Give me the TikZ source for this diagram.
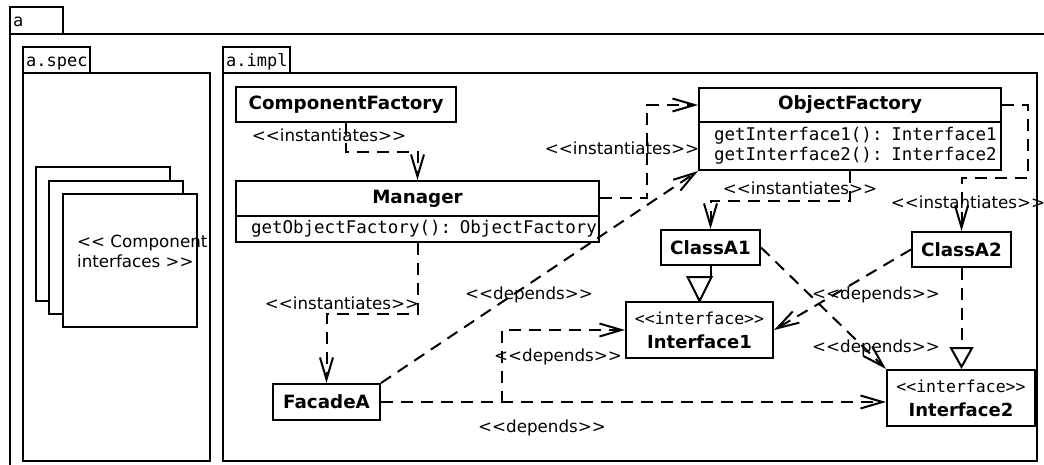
\documentclass[tikz,border=0pt]{standalone}
\usepackage{fontspec}
\setmainfont{DejaVu Sans}
\newfontfamily\monof{DejaVu Sans Mono}
\usetikzlibrary{arrows.meta,calc}

\begin{document}
\begin{tikzpicture}[x=1pt,y=-1pt,
  box/.style={draw, line width=2pt, inner sep=0pt, fill=white},
  cls/.style={box, font=\bfseries\fontsize{18.3}{22}\selectfont},
  ops/.style={box, font=\monof\fontsize{17.5}{20}\selectfont, align=left, inner xsep=15pt},
  iface/.style={box, align=center, font=\bfseries\fontsize{18}{24}\selectfont},
  lbl/.style={font=\fontsize{16.7}{20}\selectfont, inner sep=0pt},
  tabtxt/.style={font=\monof\fontsize{17}{20}\selectfont, inner sep=0pt, anchor=base west},
  frm/.style={line width=2pt},
  dep/.style={line width=2pt, dash pattern=on 12pt off 8pt,
    -{Straight Barb[length=22pt,width=13pt,line width=2pt]}},
  realdash/.style={line width=2pt, dash pattern=on 12pt off 8pt,
    -{Triangle[open,length=22pt,width=24pt,line width=2pt]}},
]
\useasboundingbox (0,0) rectangle (1044,465);

% package a
\draw[frm] (10,7) rectangle (63,34);
\node[tabtxt] (ta) at (13,27) {a};
\draw[frm] (10,475) -- (10,34) -- (1060,34);

% package a.spec
\draw[frm] (23,47) rectangle (90,73);
\node[tabtxt] (tspec) at (26,67) {a.spec};
\draw[frm] (23,73) rectangle (210,461);

% package a.impl
\draw[frm] (223,47) rectangle (290,73);
\node[tabtxt] (timpl) at (226,67) {a.impl};
\draw[frm] (223,73) rectangle (1037,461);

% stacked component interfaces
\node[box, minimum width=134pt, minimum height=134pt] (s1) at (103,234) {};
\node[box, minimum width=134pt, minimum height=133pt] (s2) at (116,247.5) {};
\node[box, minimum width=134pt, minimum height=133pt] (s3) at (130,260.5) {};
\node[lbl, align=left, anchor=north west] (stxt) at (77,235)
  {<{}< Component\\interfaces >{}>};

% classes
\node[cls, minimum width=220pt, minimum height=35pt] (CF) at (346,104.5) {ComponentFactory};
\node[cls, minimum width=363pt, minimum height=35pt] (Mgr) at (417.5,198.5) {Manager};
\node[ops, minimum width=363pt, minimum height=26pt, text width=333pt] (MgrOps) at (417.5,229)
  {\mbox{getObjectFactory(): ObjectFactory}};
\node[cls, minimum width=302pt, minimum height=34pt] (OF) at (850,105) {ObjectFactory};
\node[ops, minimum width=302pt, minimum height=48pt, text width=272pt] (OFOps) at (850,146)
  {\mbox{getInterface1(): Interface1}\\\mbox{getInterface2(): Interface2}};
\node[cls, minimum width=99pt, minimum height=35pt] (CA1) at (710.5,247.5) {ClassA1};
\node[cls, minimum width=99pt, minimum height=35pt] (CA2) at (961.5,249.5) {ClassA2};
\node[cls, minimum width=107pt, minimum height=36pt] (Fac) at (326.5,402) {FacadeA};
\node[iface, minimum width=147pt, minimum height=56pt] (I1) at (699.5,330)
  {{\monof\mdseries\fontsize{16.5}{24}\selectfont <{}<interface>{}>}\\Interface1};
\node[iface, minimum width=148pt, minimum height=56pt] (I2) at (961,398)
  {{\monof\mdseries\fontsize{16.5}{24}\selectfont <{}<interface>{}>}\\Interface2};

% instantiation dependencies
\draw[dep] (CF.south) -- ++(0,29) -| (Mgr.north);
\draw[dep] (Mgr.east) -| ($(OF.west)+(-51,0)$) -- (OF.west);
\draw[dep] (MgrOps.south) -- ++(0,71) -| (Fac.north);
\draw[dep] (OFOps.south) -- ++(0,30) -| (CA1.north);
\draw[dep] (OF.east) -- ++(26,0) -- ++(0,73) -| (CA2.north);

% usage dependencies
\draw[dep] (Fac.north east) -- (OFOps.south west);
\draw[dep] (Fac.east) -| ($(I1.west)+(-123,0)$) -- (I1.west);
\draw[dep] (Fac.east) -- (Fac.east -| I2.west);
\draw[dep] (CA2.west) -- (I1.east);
\draw[dep] (CA1.east) -- (I2.north west);

% realizations
\draw[line width=2pt] (CA1.south) -- ++(0,13);
\draw[line width=2pt, fill=white] (I1.north) -- ++(-12,-24) -- ++(24,0) -- cycle;
\draw[realdash] (CA2.south) -- (CA2.south |- I2.north);

% stereotype labels
\node[lbl] (l1) at (329,135) {<{}<instantiates>{}>};
\node[lbl] (l2) at (622,148) {<{}<instantiates>{}>};
\node[lbl] (l3) at (800,188) {<{}<instantiates>{}>};
\node[lbl] (l4) at (968,202) {<{}<instantiates>{}>};
\node[lbl] (l5) at (342,303) {<{}<instantiates>{}>};
\node[lbl] (d1) at (529,295) {<{}<depends>{}>};
\node[lbl] (d2) at (558,357) {<{}<depends>{}>};
\node[lbl] (d3) at (542,428) {<{}<depends>{}>};
\node[lbl] (d4) at (876,295) {<{}<depends>{}>};
\node[lbl] (d5) at (876,348) {<{}<depends>{}>};
\end{tikzpicture}
\end{document}
